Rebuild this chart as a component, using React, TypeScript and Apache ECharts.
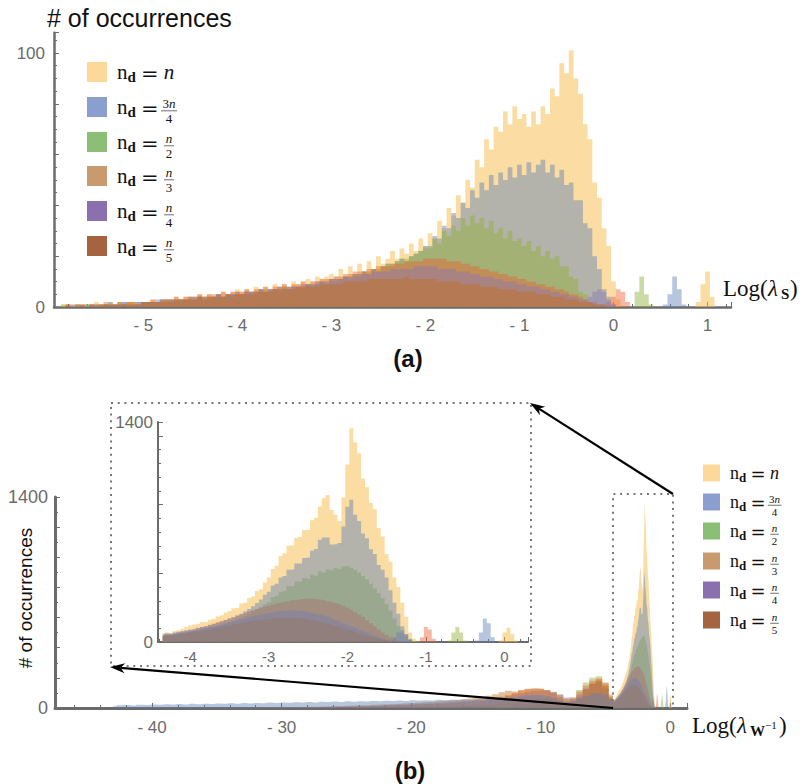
import React, { useEffect, useRef } from 'react';
import * as echarts from 'echarts';

// ---------- legend / series meta ----------
const SERIES_NAMES = ['n', '3n/4', 'n/2', 'n/3', 'n/4', 'n/5'];
const NUMERATORS = ['', '3n', 'n', 'n', 'n', 'n'];
const DENOMINATORS = ['', '4', '2', '3', '4', '5'];
const FILL = [
  'rgba(248,186,70,0.5)',
  'rgba(94,129,181,0.45)',
  'rgba(143,176,50,0.45)',
  'rgba(235,98,53,0.45)',
  'rgba(135,120,179,0.45)',
  'rgba(197,110,26,0.45)',
];
const LEGEND_FILL = ['#FCD89B', '#8A9FCF', '#8BBF76', '#C99A6E', '#8A70AE', '#A6633F'];
// drawing order (last is on top)
const ORDER_A = [0, 1, 2, 3, 4, 5];
const ORDER_B = [0, 2, 3, 4, 5, 1];

// ---------- text ----------
const TITLE_A = '# of occurrences';
const TITLE_B = '# of occurrences';
const PANEL_A = '(a)';
const PANEL_B = '(b)';

// ---------- panel (a): bins of 0.05 starting at -5.9 ----------
const A_START = -5.9;
const A_STEP = 0.05;
const A_N = [
  0, 1, 0, 1, 1, 0, 1, 1, 2, 1, 1, 2, 1, 2, 1, 2, 2, 1, 2,
  2, 3, 2, 3, 3, 2, 4, 3, 4, 3, 4, 5, 4, 5, 4, 5, 6, 5, 6, 7,
  6, 7, 6, 8, 7, 8, 7, 9, 8, 9, 8, 10, 9, 10, 11, 10, 12, 11, 12, 13,
  12, 15, 12, 16, 13, 17, 14, 18, 15, 20, 17, 19, 22, 19, 23, 21, 25, 22, 27, 24,
  29, 27, 34, 31, 39, 36, 44, 41, 50, 47, 58, 55, 66, 62, 71, 69, 77, 72, 79, 74,
  76, 71, 77, 72, 79, 76, 86, 83, 96, 92, 101, 90, 84, 72, 66, 49, 43, 31, 24, 10, 3, 0, 0, 0,
];
const A_3N4 = [
  0, 0, 1, 0, 1, 0, 1, 1, 0, 1, 1, 2, 1, 1, 2, 1, 1, 2, 2,
  2, 2, 3, 2, 3, 3, 2, 3, 3, 4, 3, 4, 4, 3, 4, 5, 4, 5, 5, 6,
  5, 6, 6, 5, 7, 6, 7, 7, 6, 8, 7, 8, 8, 7, 9, 8, 9, 10, 9, 11,
  10, 11, 12, 11, 13, 12, 14, 13, 15, 14, 16, 17, 16, 18, 19, 18, 20, 21, 22, 24,
  24, 28, 27, 32, 31, 37, 35, 41, 39, 46, 43, 49, 46, 52, 48, 53, 50, 55, 51, 56,
  52, 57, 53, 56, 58, 53, 56, 51, 54, 48, 49, 42, 42, 33, 31, 20, 15, 7, 3, 1, 0, 0, 0, 0,
];
const A_N2 = [
  0, 1, 0, 0, 1, 0, 1, 0, 1, 1, 1, 1, 1, 2, 1, 1, 2, 1, 2,
  2, 2, 2, 3, 2, 3, 3, 3, 3, 4, 3, 4, 4, 4, 4, 5, 4, 5, 5, 5,
  5, 6, 5, 6, 6, 7, 6, 7, 7, 8, 7, 8, 8, 8, 9, 9, 9, 10, 10, 10,
  11, 11, 12, 12, 13, 13, 14, 14, 15, 15, 16, 17, 17, 18, 19, 19, 20, 21, 22, 23,
  23, 27, 25, 30, 28, 32, 30, 35, 32, 36, 33, 35, 31, 34, 29, 31, 27, 30, 26, 27,
  24, 26, 22, 24, 20, 22, 19, 20, 16, 16, 12, 11, 6, 5, 2, 1, 0, 0, 0, 0, 0, 0, 0, 0,
];
const A_N3 = [
  0, 0, 1, 0, 1, 1, 0, 1, 1, 1, 2, 1, 1, 2, 1, 2, 2, 1, 2,
  2, 3, 2, 3, 3, 3, 4, 3, 4, 4, 4, 5, 4, 5, 5, 5, 6, 5, 6, 6,
  6, 7, 6, 7, 7, 8, 7, 8, 8, 9, 8, 9, 9, 10, 9, 10, 10, 11, 11, 11,
  12, 12, 13, 13, 14, 14, 14, 15, 15, 16, 16, 16, 17, 17, 17, 18, 18, 18, 18, 19,
  19, 19, 19, 19, 18, 18, 18, 17, 17, 16, 16, 15, 15, 14, 14, 13, 13, 12, 12, 11,
  11, 10, 10, 9, 9, 8, 8, 7, 7, 6, 5, 5, 4, 3, 2, 2, 1, 1, 2, 4, 7, 6, 2, 0,
];
const A_N4 = [
  0, 0, 0, 1, 0, 1, 0, 1, 1, 0, 1, 1, 1, 1, 2, 1, 1, 2, 2,
  2, 2, 2, 3, 2, 3, 3, 3, 3, 3, 4, 4, 3, 4, 4, 5, 4, 5, 5, 5,
  5, 6, 6, 6, 7, 6, 7, 7, 8, 7, 8, 8, 8, 9, 9, 9, 10, 10, 10, 11,
  11, 11, 12, 12, 12, 13, 13, 13, 14, 14, 14, 14, 15, 15, 15, 15, 15, 16, 16, 16,
  16, 16, 15, 15, 15, 15, 14, 14, 14, 13, 13, 12, 12, 12, 11, 11, 10, 10, 10, 9,
  9, 8, 8, 8, 7, 7, 6, 6, 5, 5, 4, 4, 3, 3, 4, 6, 7, 6, 4, 1, 0, 0, 0, 0,
];
const A_N5 = [
  0, 0, 1, 0, 0, 1, 0, 1, 0, 1, 1, 1, 1, 1, 1, 2, 1, 1, 2,
  2, 2, 2, 2, 3, 2, 3, 3, 3, 3, 3, 4, 3, 4, 4, 4, 4, 5, 4, 5,
  5, 5, 5, 6, 6, 6, 6, 7, 7, 7, 7, 7, 8, 8, 8, 8, 8, 9, 9, 9,
  9, 9, 10, 10, 10, 10, 10, 11, 11, 11, 11, 11, 11, 11, 11, 12, 11, 11, 11, 11,
  11, 11, 10, 10, 10, 10, 10, 9, 9, 9, 9, 8, 8, 8, 8, 7, 7, 7, 7, 6,
  6, 6, 6, 5, 5, 5, 4, 4, 4, 3, 3, 3, 2, 2, 2, 1, 1, 1, 0, 0, 0, 0, 0, 0,
];
// isolated peaks of panel (a)
const A_PEAK_N_START = 0.85;
const A_PEAK_N = [0, 2, 9, 14, 4, 0];
const A_PEAK_3N4_START = 0.5;
const A_PEAK_3N4 = [0, 1, 5, 12, 7, 1, 0];
const A_PEAK_N2_START = 0.2;
const A_PEAK_N2 = [0, 6, 12, 5, 1, 0];

// ---------- panel (b): coarse bins of 0.5 left of -4.5 ----------
const B_STEP = 0.5;
const B_N_START = -12;
const B_N = [5, 10, 20, 35, 50, 60, 62, 55, 40, 30, 60, 110, 160, 190, 150, 70];
const B_3N4_START = -43;
const B_3N4 = [
  12, 18, 20, 17, 22, 20, 24, 21, 25, 23,
  26, 24, 28, 25, 29, 27, 30, 28, 31, 29,
  33, 30, 34, 32, 36, 33, 37, 35, 38, 36,
  40, 37, 41, 39, 43, 40, 44, 42, 45, 43,
  47, 44, 48, 46, 50, 47, 51, 49, 52, 50,
  54, 51, 55, 53, 57, 55, 58, 56, 60, 58,
  62, 66, 72, 78, 84, 86, 84, 78, 68, 52,
  38, 45, 62, 80, 95, 100, 90, 60,
];
const B_N2_START = -20;
const B_N2 = [
  2, 3, 4, 5, 6, 8, 9, 11, 13, 15,
  17, 20, 23, 27, 32, 38, 44, 50, 56, 60,
  62, 60, 55, 45, 40, 70, 120, 170, 200, 210,
  165, 80,
];
const B_N3_START = -28;
const B_N3 = [
  3, 5, 4, 6, 8, 7, 10, 9, 12, 11,
  14, 13, 17, 16, 20, 19, 23, 22, 26, 25,
  30, 29, 34, 33, 38, 40, 45, 48, 55, 60,
  70, 85, 100, 115, 125, 130, 128, 118, 100, 72,
  45, 70, 110, 150, 180, 195, 170, 90,
];
const B_N4_START = -30;
const B_N4 = [
  2, 3, 3, 4, 5, 6, 6, 7, 8, 9,
  10, 11, 12, 14, 15, 16, 18, 19, 21, 23,
  25, 27, 29, 32, 34, 37, 40, 43, 46, 50,
  54, 58, 63, 68, 75, 82, 90, 98, 106, 112,
  116, 115, 108, 92, 70, 60, 90, 130, 160, 172,
  130, 60,
];
const B_N5_START = -32;
const B_N5 = [
  2, 3, 3, 4, 5, 5, 6, 7, 8, 8,
  10, 11, 12, 13, 15, 16, 18, 19, 21, 23,
  25, 27, 29, 31, 34, 36, 39, 42, 45, 48,
  52, 55, 59, 63, 68, 74, 82, 92, 104, 115,
  110, 120, 127, 130, 128, 120, 105, 85, 62, 48,
  75, 125, 165, 180, 150, 70,
];

// ---------- fine bins of 0.05 from -4.35 (inset, also used in panel b) ----------
const I_START = -4.35;
const I_STEP = 0.05;
const I_N = [
  55, 60, 58, 70, 75, 85, 95,
  105, 112, 116, 127, 126, 142, 148, 163, 170, 188,
  198, 215, 218, 245, 250, 280, 290, 325, 335, 378,
  410, 465, 485, 548, 565, 612, 615, 662, 668, 712,
  712, 775, 790, 862, 915, 935, 840, 810, 770, 920,
  1130, 1360, 1270, 1200, 1040, 985, 885, 845, 725, 672,
  560, 510, 410, 350, 250, 160, 60, 20, 5, 0,
  0, 0, 0, 0, 0, 0, 0, 0, 0, 0,
  0, 0, 0, 0, 0, 0, 0, 0, 0, 10,
  60, 90, 50, 10, 0, 0,
];
const I_3N4 = [
  50, 55, 52, 60, 65, 70, 75,
  80, 84, 90, 95, 100, 108, 115, 122, 130, 140,
  150, 158, 168, 180, 195, 210, 228, 248, 270, 300,
  320, 360, 370, 410, 420, 460, 462, 500, 500, 535,
  538, 580, 592, 650, 665, 665, 620, 622, 630, 735,
  860, 905, 810, 770, 690, 660, 590, 560, 490, 460,
  410, 330, 250, 180, 100, 50, 15, 0, 0, 0,
  0, 0, 0, 0, 0, 0, 0, 0, 0, 0,
  0, 0, 0, 10, 60, 150, 120, 30, 0, 0,
  0, 0, 0, 0, 0, 0,
];
const I_N2 = [
  40, 45, 48, 50, 52, 56, 60,
  65, 70, 75, 80, 85, 90, 96, 102, 110, 116,
  125, 135, 145, 155, 166, 180, 195, 210, 225, 240,
  255, 285, 292, 318, 325, 355, 356, 385, 383, 408,
  402, 428, 422, 448, 442, 462, 455, 472, 463, 482,
  482, 472, 460, 442, 420, 400, 370, 340, 310, 278,
  240, 200, 150, 100, 60, 40, 20, 5, 0, 0,
  0, 0, 0, 0, 0, 0, 10, 60, 95, 60,
  10, 0, 0, 0, 0, 0, 0, 0, 0, 0,
  0, 0, 0, 0, 0, 0,
];
const I_N3 = [
  45, 50, 48, 55, 60, 65, 70,
  75, 80, 88, 95, 100, 110, 118, 125, 133, 140,
  150, 158, 168, 175, 185, 195, 202, 210, 216, 224,
  230, 238, 245, 250, 255, 260, 265, 268, 272, 275,
  275, 275, 272, 270, 265, 260, 255, 248, 240, 230,
  220, 205, 190, 175, 160, 140, 120, 100, 80, 60,
  45, 30, 20, 10, 5, 0, 0, 0, 5, 30,
  95, 80, 20, 0, 0, 0, 0, 0, 0, 0,
  0, 0, 0, 0, 0, 0, 0, 0, 0, 0,
  0, 0, 0, 0, 0, 0,
];
const I_N4 = [
  40, 45, 46, 50, 55, 60, 62,
  68, 72, 78, 85, 90, 95, 100, 105, 110, 118,
  125, 130, 138, 145, 150, 158, 165, 170, 175, 180,
  185, 190, 195, 198, 200, 200, 202, 200, 198, 195,
  190, 185, 180, 175, 168, 160, 150, 140, 130, 120,
  110, 100, 90, 80, 70, 60, 50, 40, 30, 22,
  15, 10, 30, 60, 75, 50, 15, 0, 0, 0,
  0, 0, 0, 0, 0, 0, 0, 0, 0, 0,
  0, 0, 0, 0, 0, 0, 0, 0, 0, 0,
  0, 0, 0, 0, 0, 0,
];
const I_N5 = [
  35, 40, 42, 45, 48, 52, 55,
  60, 64, 68, 72, 76, 80, 85, 90, 95, 100,
  105, 110, 115, 120, 125, 130, 135, 140, 142, 145,
  148, 150, 152, 153, 154, 154, 153, 152, 150, 148,
  145, 140, 135, 130, 125, 118, 110, 102, 95, 88,
  80, 72, 64, 56, 48, 40, 34, 28, 22, 16,
  12, 8, 5, 2, 0, 0, 0, 0, 0, 0,
  0, 0, 0, 0, 0, 0, 0, 0, 0, 0,
  0, 0, 0, 0, 0, 0, 0, 0, 0, 0,
  0, 0, 0, 0, 0, 0,
];

// ---------- helpers ----------
const bins = (start: number, step: number, vals: number[]) =>
  vals.map((v, i) => [Math.round((start + i * step) * 1000) / 1000, v]);

const A_DATA = [
  bins(A_START, A_STEP, A_N).concat(bins(A_PEAK_N_START, A_STEP, A_PEAK_N)),
  bins(A_START, A_STEP, A_3N4).concat(bins(A_PEAK_3N4_START, A_STEP, A_PEAK_3N4)),
  bins(A_START, A_STEP, A_N2).concat(bins(A_PEAK_N2_START, A_STEP, A_PEAK_N2)),
  bins(A_START, A_STEP, A_N3),
  bins(A_START, A_STEP, A_N4),
  bins(A_START, A_STEP, A_N5),
];
const I_DATA = [I_N, I_3N4, I_N2, I_N3, I_N4, I_N5].map((a) => bins(I_START, I_STEP, a));
const B_COARSE = [
  bins(B_N_START, B_STEP, B_N),
  bins(B_3N4_START, B_STEP, B_3N4),
  bins(B_N2_START, B_STEP, B_N2),
  bins(B_N3_START, B_STEP, B_N3),
  bins(B_N4_START, B_STEP, B_N4),
  bins(B_N5_START, B_STEP, B_N5),
];
const B_DATA = B_COARSE.map((c, i) => c.concat(I_DATA[i]));

const AXIS_COLOR = '#6b6b6b';
const SANS = '"Liberation Sans", Arial, sans-serif';
const SERIF = '"Liberation Serif", "Times New Roman", serif';

const isInt = (v: number) => Math.abs(v - Math.round(v)) < 1e-6;
const fmtSpaced = (v: number) => {
  if (!isInt(v)) return '';
  const r = Math.round(v);
  return r < 0 ? '- ' + Math.abs(r) : String(r);
};
const fmtTight = (v: number) => {
  if (!isInt(v)) return '';
  const r = Math.round(v);
  return r < 0 ? '-' + Math.abs(r) : String(r);
};

function xAxisCfg(grid: number, min: number, max: number, step: number, minorSplit: number,
  fs: number, fmt: (v: number) => string, lw: number, margin: number) {
  return {
    type: 'value', gridIndex: grid, min, max, minInterval: step, maxInterval: step,
    splitNumber: Math.round((max - min) / step),
    axisLine: { show: true, onZero: false, lineStyle: { color: AXIS_COLOR, width: lw } },
    axisTick: { show: true, inside: true, length: 5, lineStyle: { color: AXIS_COLOR, width: 1 } },
    minorTick: { show: true, splitNumber: minorSplit, length: 3, lineStyle: { color: AXIS_COLOR, width: 1 } },
    splitLine: { show: false },
    axisLabel: { color: AXIS_COLOR, fontSize: fs, fontFamily: SANS, margin, formatter: fmt },
  };
}
function yAxisCfg(grid: number, max: number, interval: number, minorSplit: number, fs: number,
  shown: number[], lw: number, margin: number) {
  return {
    type: 'value', gridIndex: grid, min: 0, max, interval,
    axisLine: { show: true, onZero: false, lineStyle: { color: AXIS_COLOR, width: lw } },
    axisTick: { show: true, inside: true, length: 5, lineStyle: { color: AXIS_COLOR, width: 1 } },
    minorTick: { show: true, splitNumber: minorSplit, length: 3, lineStyle: { color: AXIS_COLOR, width: 1 } },
    splitLine: { show: false },
    axisLabel: {
      color: AXIS_COLOR, fontSize: fs, fontFamily: SANS, margin,
      formatter: (v: number) => (shown.some((s) => Math.abs(s - v) < 1e-6) ? String(v) : ''),
    },
  };
}

function txt(x: number, y: number, text: string, font: string, align = 'left', extra: any = {}) {
  return {
    type: 'text', x, y, z: 120, ...extra,
    style: { text, font, fill: '#111', align, verticalAlign: 'middle', textAlign: align, textVerticalAlign: 'middle' },
  };
}

function legendGraphics(x0: number, ys: number[], size: number, tx: number, fs: number) {
  const s = fs / 21;
  const els: any[] = [];
  ys.forEach((y, i) => {
    els.push({ type: 'rect', z: 120, shape: { x: x0, y: y - size / 2, width: size, height: size }, style: { fill: LEGEND_FILL[i] } });
    els.push(txt(tx, y, 'n', `${fs}px ${SERIF}`));
    els.push(txt(tx + 10.5 * s, y + 5 * s, 'd', `bold ${Math.round(15 * s)}px ${SERIF}`));
    els.push(txt(tx + 24 * s, y + 1.5 * s, '=', `${fs}px "DejaVu Serif", serif`));
    const cx = tx + 52 * s;
    if (i === 0) {
      els.push(txt(cx, y, SERIES_NAMES[0], `italic ${fs}px ${SERIF}`, 'center'));
    } else {
      const ff = Math.round(13 * s);
      const num = NUMERATORS[i].length > 1 ? `{r|${NUMERATORS[i][0]}}{i|n}` : '{i|n}';
      els.push({
        type: 'text', x: cx, y: y - 3.5 * s, z: 120,
        style: {
          text: num, align: 'center', verticalAlign: 'middle', textAlign: 'center', textVerticalAlign: 'middle',
          fill: '#111', lineHeight: ff,
          rich: {
            r: { font: `${ff}px ${SERIF}`, fill: '#111', lineHeight: ff },
            i: { font: `italic ${ff}px ${SERIF}`, fill: '#111', lineHeight: ff },
          },
        },
      });
      const hw = (NUMERATORS[i].length > 1 ? 8 : 5) * s;
      els.push({ type: 'line', z: 120, shape: { x1: cx - hw, y1: y + 3.8 * s, x2: cx + hw, y2: y + 3.8 * s }, style: { stroke: '#333', lineWidth: 0.7 } });
      els.push({
        ...txt(cx, y + 11.5 * s, DENOMINATORS[i], `${ff}px ${SERIF}`, 'center'),
      });
    }
  });
  return els;
}

function arrow(x1: number, y1: number, x2: number, y2: number) {
  const dx = x2 - x1, dy = y2 - y1, L = Math.hypot(dx, dy);
  const ux = dx / L, uy = dy / L, px = -uy, py = ux;
  const hl = 15, hw = 5;
  const bx = x2 - ux * hl, by = y2 - uy * hl;
  const nx = x2 - ux * hl * 0.7, ny = y2 - uy * hl * 0.7;
  return [
    { type: 'line', z: 110, shape: { x1, y1, x2: nx, y2: ny }, style: { stroke: '#000', lineWidth: 2.2 } },
    {
      type: 'polygon', z: 111,
      shape: { points: [[x2, y2], [bx + px * hw, by + py * hw], [nx, ny], [bx - px * hw, by - py * hw]] },
      style: { fill: '#000' },
    },
  ];
}

function seriesFor(panel: number, data: number[][][], order: number[]) {
  return order.map((i) => ({
    type: 'line', name: SERIES_NAMES[i] + '_' + panel, xAxisIndex: panel, yAxisIndex: panel,
    data: data[i], step: 'middle', symbol: 'none', showSymbol: false, silent: true, clip: true,
    lineStyle: { width: 0, opacity: 0 },
    areaStyle: { color: FILL[i], opacity: 1 },
    z: 2,
  }));
}

export default function App() {
  const ref = useRef<HTMLDivElement>(null);
  useEffect(() => {
    if (!ref.current) return;
    const chart = echarts.init(ref.current, undefined, { renderer: 'svg' });
    const dotted = { stroke: '#777', lineWidth: 2, lineDash: [2, 4.7], fill: 'none' };
    const graphic: any[] = [
      txt(47, 18, TITLE_A, `25px ${SANS}`),
      txt(25, 598, TITLE_B, `19px ${SANS}`, 'center', { rotation: Math.PI / 2 }),
      txt(408, 358, PANEL_A, `bold 24px ${SANS}`, 'center'),
      txt(410, 770, PANEL_B, `bold 24px ${SANS}`, 'center'),
      // axis names
      txt(723, 288, 'Log(', `23px ${SERIF}`),
      txt(768, 288, 'λ', `italic 23px ${SERIF}`),
      txt(781, 294, 'S', `bold 15px ${SERIF}`),
      txt(790, 288, ')', `23px ${SERIF}`),
      txt(692, 725, 'Log(', `23px ${SERIF}`),
      txt(737, 725, 'λ', `italic 23px ${SERIF}`),
      txt(750, 731, 'W', `bold 15px ${SERIF}`),
      txt(765, 725, '−1', `11px ${SERIF}`),
      txt(779, 725, ')', `23px ${SERIF}`),
      // dotted boxes
      { type: 'rect', z: 105, shape: { x: 111, y: 403, width: 420, height: 263 }, style: dotted },
      { type: 'polyline', z: 105, shape: { points: [[613, 708], [613, 494], [673, 494], [673, 708]] }, style: dotted },
      ...arrow(673, 494, 530, 403),
      ...arrow(613, 708, 110, 667),
      ...legendGraphics(87, [72, 107, 142, 176, 211, 246], 20, 117, 21),
      ...legendGraphics(703, [473, 502, 531, 561, 590, 620], 17, 730, 18),
    ];
    chart.setOption({
      animation: false,
      grid: [
        { left: 54, top: 32.7, width: 677, height: 274.3 },
        { left: 55, top: 497, width: 632, height: 211 },
        { left: 158, top: 422, width: 370, height: 220 },
      ],
      xAxis: [
        xAxisCfg(0, -5.95, 1.25, 1, 5, 17, fmtSpaced, 2.5, 10),
        xAxisCfg(1, -47.5, 1.3, 10, 5, 17, fmtSpaced, 3, 11),
        xAxisCfg(2, -4.41, 0.3, 1, 5, 15, fmtTight, 2, 7),
      ],
      yAxis: [
        yAxisCfg(0, 108, 20, 4, 17, [0, 100], 2.5, 9),
        yAxisCfg(1, 1400, 200, 2, 18, [0, 1400], 3, 7),
        yAxisCfg(2, 1400, 437.5, 5, 17, [0, 1400], 2, 5),
      ],
      series: [
        ...seriesFor(0, A_DATA, ORDER_A),
        ...seriesFor(1, B_DATA, ORDER_B),
        ...seriesFor(2, I_DATA, ORDER_B),
      ],
      graphic,
    });
    return () => chart.dispose();
  }, []);
  return <div ref={ref} style={{ position: 'absolute', left: 0, top: 0, width: 806, height: 784 }} />;
}
